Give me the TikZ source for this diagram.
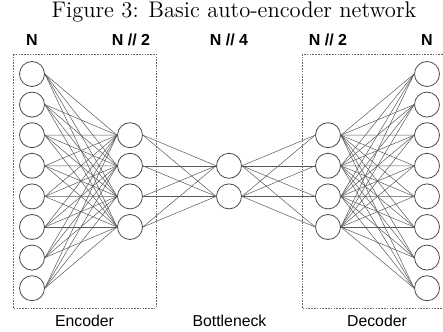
\documentclass[tikz,border=0pt]{standalone}
\usepackage{fontspec}
\setsansfont{Liberation Sans}
\usetikzlibrary{positioning}
\tikzset{
  neuron/.style={circle,draw=black!70,line width=0.4pt,minimum size=12.5pt,inner sep=0pt},
  wire/.style={draw=black!65,line width=0.25pt},
  layerbox/.style={draw=black!60,line width=0.35pt,dash pattern=on 0.8pt off 0.6pt},
  layertitle/.style={font=\sffamily\bfseries\fontsize{8}{9.6}\selectfont,anchor=base},
  boxtitle/.style={font=\sffamily\fontsize{7.9}{9.5}\selectfont,anchor=base}
}

\begin{document}
\begin{tikzpicture}[x=0.5pt,y=-0.5pt]
  \useasboundingbox (0,0) rectangle (443,331);
  \node[font=\fontsize{11.3}{13}\selectfont,anchor=base] (caption) at (234,17.5) {Figure 3: Basic auto-encoder network};
  % dashed groups
  \draw[layerbox] (13,54) rectangle (156,308);
  \draw[layerbox] (302,54) rectangle (446,308);
  % neurons
  \foreach \i in {1,...,8}{
    \node[neuron] (in\i) at (32,{74+(\i-1)*30.6}) {};
    \node[neuron] (out\i) at (427,{74+(\i-1)*30.6}) {};
  }
  \foreach \i in {1,...,4}{
    \node[neuron] (enc\i) at (130,{135.2+(\i-1)*30.6}) {};
    \node[neuron] (dec\i) at (328,{135.2+(\i-1)*30.6}) {};
  }
  \foreach \i in {1,2}
    \node[neuron] (bn\i) at (229,{165.8+(\i-1)*30.6}) {};
  % connections
  \foreach \i in {1,...,8}
    \foreach \j in {1,...,4}{
      \draw[wire] (in\i.east) -- (enc\j.west);
      \draw[wire] (dec\j.east) -- (out\i.west);
    }
  \foreach \i in {1,...,4}
    \foreach \j in {1,2}{
      \draw[wire] (enc\i.east) -- (bn\j.west);
      \draw[wire] (bn\j.east) -- (dec\i.west);
    }
  % layer sizes
  \foreach \k/\x/\txt in {1/32/N,2/131/{N // 2},3/229/{N // 4},4/328/{N // 2},5/427/N}
    \node[layertitle] (size\k) at (\x,45.5) {\txt};
  % group names
  \foreach \k/\x/\txt in {1/84.5/Encoder,2/229.5/Bottleneck,3/377/Decoder}
    \node[boxtitle] (group\k) at (\x,326) {\txt};
\end{tikzpicture}
\end{document}
